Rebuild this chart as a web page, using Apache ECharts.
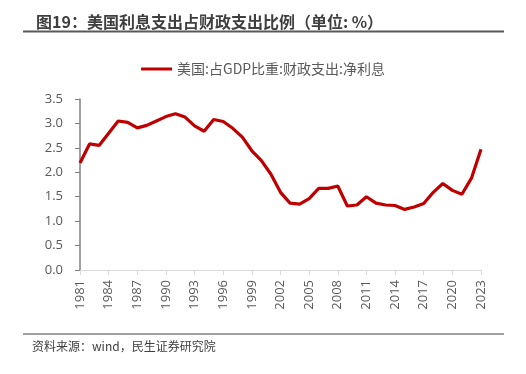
<!DOCTYPE html>
<html>
<head>
<meta charset="utf-8">
<script src="https://cdn.jsdelivr.net/npm/echarts@6/dist/echarts.min.js"></script>
<style>html,body{margin:0;padding:0;background:#fff}#c{width:526px;height:374px}</style>
</head>
<body>
<div id="c"></div>
<script>
const years = [];
for (let y = 1981; y <= 2023; y++) years.push(String(y));
const seriesName = '美国:占GDP比重:财政支出:净利息';
const values = [2.19,2.58,2.55,2.80,3.05,3.02,2.91,2.96,3.05,3.14,3.20,3.13,2.95,2.84,3.08,3.04,2.90,2.72,2.44,2.24,
  1.96,1.59,1.37,1.35,1.46,1.67,1.67,1.72,1.31,1.33,1.50,1.37,1.33,1.32,1.24,1.29,1.36,1.59,1.77,1.63,1.55,1.88,2.47];
const titleText = '图19：美国利息支出占财政支出比例（单位: %）';
const sourceText = '资料来源：wind，民生证券研究院';
const font = '"Noto Sans CJK SC","Open Sans",sans-serif';
const numFont = '"Open Sans","Noto Sans CJK SC",sans-serif';

const chart = echarts.init(document.getElementById('c'));
chart.setOption({
  animation: false,
  textStyle: {fontFamily: font},
  title: {
    text: titleText, left: 31, top: 9,
    textStyle: {fontSize: 16, fontWeight: 'bold', color: '#3f3f3f', fontFamily: font}
  },
  graphic: [
    {type: 'line', shape: {x1: 23, y1: 31.5, x2: 504, y2: 31.5}, style: {stroke: '#595959', lineWidth: 2}},
    {type: 'line', shape: {x1: 23, y1: 334, x2: 504, y2: 334}, style: {stroke: '#404040', lineWidth: 1}},
    {type: 'text', left: 32, top: 340, style: {text: sourceText, fontSize: 12, fill: '#404040', fontFamily: font}}
  ],
  legend: {
    top: 57, left: 'center',
    itemWidth: 31, itemHeight: 3, itemGap: 5,
    textStyle: {fontSize: 14, color: '#595959'},
    data: [{name: seriesName, icon: 'rect'}]
  },
  grid: {left: 80, right: 45, top: 99, bottom: 104, containLabel: false},
  xAxis: {
    type: 'category', data: years, boundaryGap: false,
    axisLine: {lineStyle: {color: '#d9d9d9'}},
    axisTick: {show: true, interval: 2, length: 5, lineStyle: {color: '#d9d9d9'}},
    axisLabel: {interval: 2, rotate: 90, color: '#595959', fontSize: 13, margin: 10, fontFamily: numFont}
  },
  yAxis: {
    type: 'value', min: 0, max: 3.5, interval: 0.5,
    axisLine: {show: true, lineStyle: {color: '#808080', width: 1.5}},
    axisTick: {show: true, length: 5, lineStyle: {color: '#808080'}},
    splitLine: {show: false},
    axisLabel: {color: '#595959', fontSize: 13, margin: 17, fontFamily: numFont, formatter: v => v.toFixed(1)}
  },
  series: [{
    name: seriesName, type: 'line', data: values,
    symbol: 'none', smooth: false,
    lineStyle: {color: '#C00000', width: 3.2},
    itemStyle: {color: '#C00000'}
  }]
});
</script>
</body>
</html>
